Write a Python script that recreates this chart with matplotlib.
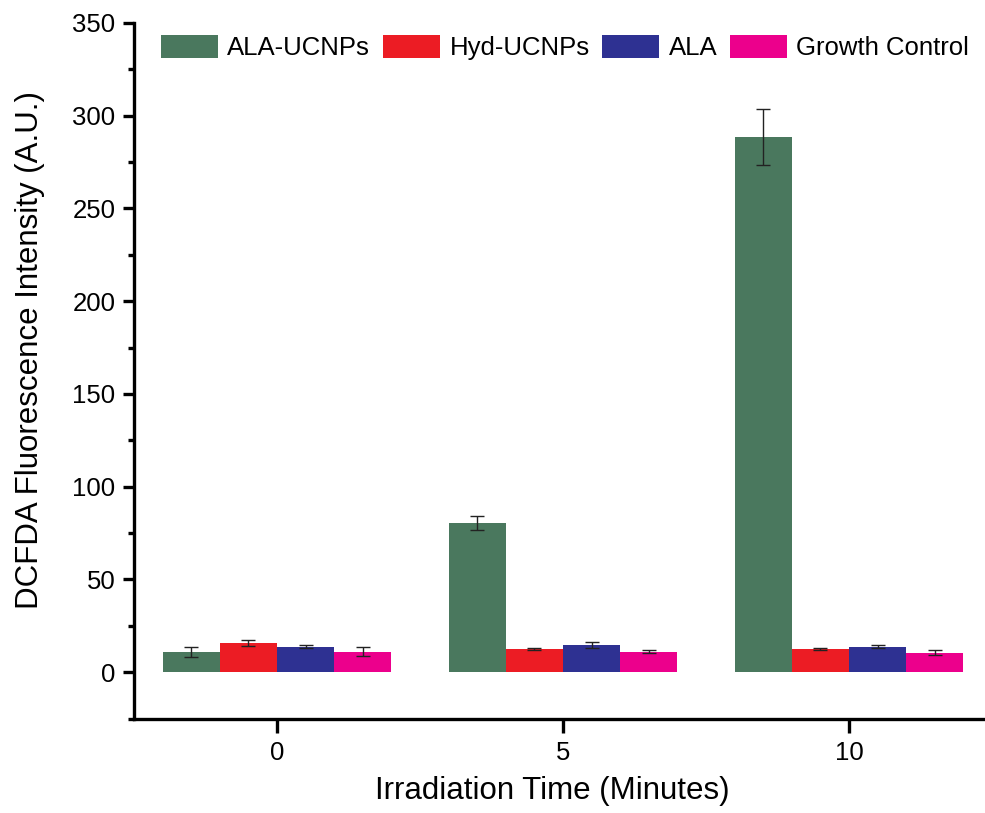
import matplotlib
matplotlib.use("Agg")
import matplotlib.pyplot as plt
from matplotlib.ticker import MultipleLocator
import numpy as np

plt.rcParams['font.family'] = ["Liberation Sans", "DejaVu Sans"]

times = ["0", "5", "10"]
series = ["ALA-UCNPs", "Hyd-UCNPs", "ALA", "Growth Control"]
ala_ucnps = [10.9, 80.6, 288.5]
ala_ucnps_err = [2.7, 3.8, 15.0]
hyd_ucnps = [15.6, 12.4, 12.5]
hyd_ucnps_err = [1.5, 0.6, 0.6]
ala = [13.6, 14.7, 13.8]
ala_err = [0.8, 1.8, 0.8]
growth = [10.9, 10.9, 10.5]
growth_err = [2.4, 0.8, 1.2]
colors = ["#4a785e", "#ec1c24", "#2e3192", "#ec008c"]

values = [ala_ucnps, hyd_ucnps, ala, growth]
errors = [ala_ucnps_err, hyd_ucnps_err, ala_err, growth_err]

fig = plt.figure(figsize=(9.85, 8.13), dpi=100)
ax = fig.add_axes([134/985, 1-718.5/813, 858/985, (718.5-23)/813])

x = np.arange(len(times))
w = 0.2
for i in range(4):
    ax.bar(x + (i - 1.5) * w, values[i], w, color=colors[i], label=series[i],
           yerr=errors[i], capsize=5,
           error_kw=dict(ecolor="#222222", elinewidth=1.0, capthick=1.0))

ax.set_xlim(-0.5, 2.5)
ax.set_ylim(-25, 350)
ax.set_xticks(x)
ax.set_xticklabels(times)
ax.yaxis.set_major_locator(MultipleLocator(50))
ax.yaxis.set_minor_locator(MultipleLocator(25))

for s in ["top", "right"]:
    ax.spines[s].set_visible(False)
for s in ["left", "bottom"]:
    ax.spines[s].set_linewidth(2.4)

ax.tick_params(axis="both", which="major", direction="out", length=8, width=2.4,
               labelsize=18.5, pad=5.5)
ax.tick_params(axis="y", which="minor", direction="out", length=4.5, width=2.4)
ax.tick_params(axis="x", which="major", length=10, pad=6)

ax.set_xlabel("Irradiation Time (Minutes)", fontsize=22.5)
ax.set_ylabel("DCFDA Fluorescence Intensity (A.U.)", fontsize=22.5)
ax.xaxis.set_label_coords(0.487, -0.082)
ax.yaxis.set_label_coords(-0.104, 0.53)

ax.legend(loc="upper left", bbox_to_anchor=(22/858, 0.99), ncol=4, frameon=False,
          fontsize=18.5, handlelength=2.2, handleheight=1.0, handletextpad=0.38,
          columnspacing=0.5, borderpad=0.2, borderaxespad=0)

fig.savefig("out.png", dpi=100)
